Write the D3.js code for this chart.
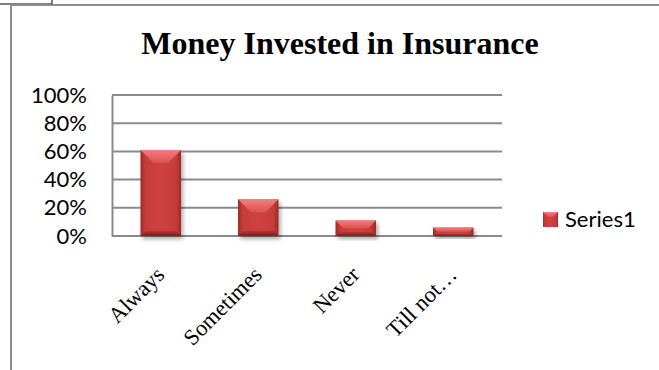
<!DOCTYPE html>
<html>
<head>
<meta charset="utf-8">
<script src="https://cdn.jsdelivr.net/npm/d3@7/dist/d3.min.js"></script>
<style>
  html, body { margin: 0; padding: 0; background: #fff; }
  svg { display: block; }
</style>
</head>
<body>
<svg id="chart" width="659" height="370"></svg>
<script>
// Chart data
const categories = ["Always", "Sometimes", "Never", "Till not\u2026"];
const values = [0.61, 0.26, 0.11, 0.06];
const yTicks = [0, 0.2, 0.4, 0.6, 0.8, 1.0];
const seriesName = "Series1";
const chartTitle = "Money Invested in Insurance";

const svg = d3.select("#chart");
const W = 659, H = 370;

// Plot area
const plot = { left: 112, right: 502, top: 95, bottom: 236 };

const x = d3.scaleBand()
  .domain(categories)
  .range([plot.left, plot.right])
  .paddingInner(0.585)
  .paddingOuter(0.2925);

const y = d3.scaleLinear().domain([0, 1]).range([plot.bottom, plot.top]);

// Gradients and shadow for the bevelled bars
const defs = svg.append("defs");
const body = defs.append("linearGradient").attr("id", "barBody")
  .attr("x1", "0").attr("x2", "1").attr("y1", "0").attr("y2", "0");
body.append("stop").attr("offset", "0").attr("stop-color", "#9e2a28");
body.append("stop").attr("offset", "0.12").attr("stop-color", "#c63c3b");
body.append("stop").attr("offset", "0.5").attr("stop-color", "#cf4242");
body.append("stop").attr("offset", "0.88").attr("stop-color", "#c63c3b");
body.append("stop").attr("offset", "1").attr("stop-color", "#9a2826");

const topG = defs.append("linearGradient").attr("id", "barTop")
  .attr("x1", "0").attr("x2", "0").attr("y1", "0").attr("y2", "1");
topG.append("stop").attr("offset", "0").attr("stop-color", "#f27e7c");
topG.append("stop").attr("offset", "1").attr("stop-color", "#dc5150");

const botG = defs.append("linearGradient").attr("id", "barBottom")
  .attr("x1", "0").attr("x2", "0").attr("y1", "0").attr("y2", "1");
botG.append("stop").attr("offset", "0").attr("stop-color", "#b83433");
botG.append("stop").attr("offset", "1").attr("stop-color", "#7e1d1c");

const shadow = defs.append("filter").attr("id", "shadow")
  .attr("x", "-20%").attr("y", "-20%").attr("width", "150%").attr("height", "150%");
shadow.append("feGaussianBlur").attr("in", "SourceAlpha").attr("stdDeviation", 2).attr("result", "b");
shadow.append("feOffset").attr("in", "b").attr("dx", 2).attr("dy", 3).attr("result", "o");
shadow.append("feComponentTransfer").attr("in", "o").attr("result", "s")
  .append("feFuncA").attr("type", "linear").attr("slope", 0.35);
const merge = shadow.append("feMerge");
merge.append("feMergeNode").attr("in", "s");
merge.append("feMergeNode").attr("in", "SourceGraphic");

// Page-level frame lines
svg.append("path")
  .attr("d", "M0,4 H52 V0")
  .attr("fill", "none").attr("stroke", "#000").attr("stroke-width", 1);
svg.append("path")
  .attr("d", `M11,${H} V5 H${W}`)
  .attr("fill", "none").attr("stroke", "#8c8c8c").attr("stroke-width", 2);

// Title
svg.append("text")
  .attr("x", 340).attr("y", 54)
  .attr("text-anchor", "middle")
  .attr("font-family", "'Liberation Serif', 'Times New Roman', serif")
  .attr("font-weight", "bold")
  .attr("font-size", 32)
  .attr("fill", "#000")
  .text(chartTitle);

// Gridlines
svg.append("g").selectAll("line").data(yTicks).join("line")
  .attr("x1", plot.left).attr("x2", plot.right)
  .attr("y1", d => y(d)).attr("y2", d => y(d))
  .attr("stroke", "#8a8a8a").attr("stroke-width", 2);

// Y axis
const yAxis = svg.append("g")
  .attr("transform", `translate(${plot.left},0)`)
  .call(d3.axisLeft(y).tickValues(yTicks).tickFormat(d3.format(".0%")).tickSize(0).tickPadding(25));
yAxis.select(".domain").attr("stroke", "#8a8a8a").attr("stroke-width", 2);
yAxis.selectAll("text")
  .attr("font-family", "Lato, 'Liberation Sans', sans-serif")
  .attr("font-size", 22).attr("fill", "#000");

// Bars
const bars = svg.append("g").selectAll("g").data(categories).join("g")
  .attr("filter", "url(#shadow)");
bars.each(function (c, i) {
  const g = d3.select(this);
  const bx = x(c), bw = x.bandwidth();
  const by = y(values[i]), bh = y(0) - y(values[i]);
  const d = Math.min(13, bh / 2, bw / 2);
  const e = Math.min(5, bh / 4);
  g.append("rect").attr("x", bx).attr("y", by).attr("width", bw).attr("height", bh)
    .attr("fill", "url(#barBody)");
  g.append("path")
    .attr("d", `M${bx},${by} H${bx + bw} L${bx + bw - d},${by + d} H${bx + d} Z`)
    .attr("fill", "url(#barTop)");
  g.append("path")
    .attr("d", `M${bx},${by + bh} H${bx + bw} L${bx + bw - e},${by + bh - e} H${bx + e} Z`)
    .attr("fill", "url(#barBottom)");
});

// X axis labels (rotated)
svg.append("g").selectAll("text").data(categories).join("text")
  .attr("transform", d => `translate(${x(d) + x.bandwidth() / 2 + 5},${plot.bottom + 40}) rotate(-45)`)
  .attr("text-anchor", "end")
  .attr("font-family", "'Liberation Serif', 'Times New Roman', serif")
  .attr("font-size", 22.5)
  .attr("fill", "#000")
  .text(d => d);

// Legend
const legend = svg.append("g").attr("transform", "translate(543,212)");
legend.append("rect").attr("width", 15).attr("height", 15).attr("fill", "url(#barBody)");
legend.append("path").attr("d", "M0,0 H15 L10,5 H5 Z").attr("fill", "url(#barTop)");
legend.append("text")
  .attr("x", 22).attr("y", 15)
  .attr("font-family", "Lato, 'Liberation Sans', sans-serif")
  .attr("font-size", 22).attr("fill", "#000")
  .text(seriesName);
</script>
</body>
</html>
